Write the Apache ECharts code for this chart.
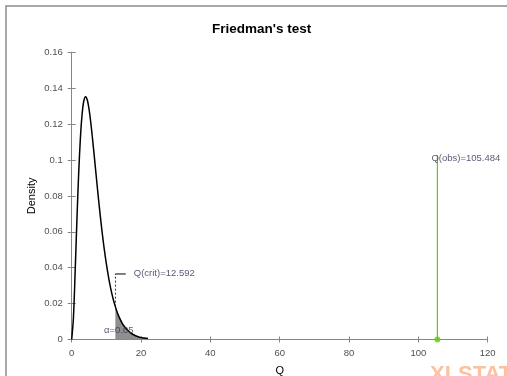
<!DOCTYPE html>
<html>
<head>
<meta charset="utf-8">
<script src="https://cdn.jsdelivr.net/npm/echarts@6/dist/echarts.min.js"></script>
<style>html,body{margin:0;padding:0;background:#fff;}#c{width:507px;height:376px;}</style>
</head>
<body>
<div id="c"></div>
<script>
// Density curve
var qValues = [0,0.5,1,1.5,2,2.5,3,3.5,4,4.5,5,5.5,6,6.5,7,7.5,8,8.5,9,9.5,10,10.5,11,11.5,12,12.592,13,13.5,14,14.5,15,15.5,16,17,18,19,20,21,22];
var densityValues = [0,0.0122,0.0379,0.0664,0.0920,0.1119,0.1255,0.1330,0.1353,0.1334,0.1283,0.1209,0.1120,0.1024,0.0925,0.0827,0.0733,0.0644,0.0562,0.0488,0.0421,0.0362,0.0309,0.0263,0.0223,0.0183,0.0159,0.0133,0.0112,0.0093,0.0078,0.0065,0.0054,0.0037,0.0025,0.0017,0.0011,0.0008,0.0005];
var qCrit = 12.592;
var qCritLabelY = 0.0365;
var qCritLabelEndX = 15.6;
var qObs = 105.484;
var qObsTop = 0.1025;
var alphaLabelPos = [13.6, 0.0049];
var xTicks = {min: 0, max: 120, interval: 20};
var yTicks = {min: 0, max: 0.16, interval: 0.02};

var curve = qValues.map(function (q, i) { return [q, densityValues[i]]; });
var tail = curve.filter(function (p) { return p[0] >= qCrit; });

var chart = echarts.init(document.getElementById('c'));
var axisGray = '#868686';
var txt = '#505050';
var fnt = '"Liberation Sans", Arial, sans-serif';

function xa(inside, showLabel) {
  return {
    type: 'value', position: 'bottom', min: xTicks.min, max: xTicks.max, interval: xTicks.interval,
    name: showLabel ? 'Q' : '', nameLocation: 'middle', nameGap: 26,
    nameTextStyle: {color: '#000', fontSize: 11, fontFamily: fnt},
    axisLine: {show: true, lineStyle: {color: axisGray, width: 1}},
    axisTick: {show: true, inside: inside, length: 3, lineStyle: {color: axisGray}},
    axisLabel: {show: showLabel, color: txt, fontSize: 9.5, fontFamily: fnt, margin: 9},
    splitLine: {show: false}
  };
}
function ya(inside, showLabel) {
  return {
    type: 'value', position: 'left', min: yTicks.min, max: yTicks.max, interval: yTicks.interval,
    name: showLabel ? 'Density' : '', nameLocation: 'middle', nameGap: 34, nameRotate: 90,
    nameMoveOverlap: false,
    nameTextStyle: {color: '#000', fontSize: 11, fontFamily: fnt},
    axisLine: {show: true, lineStyle: {color: axisGray, width: 1}},
    axisTick: {show: true, inside: inside, length: 4, lineStyle: {color: axisGray}},
    axisLabel: {show: showLabel, color: txt, fontSize: 9.5, fontFamily: fnt, margin: 9},
    splitLine: {show: false}
  };
}

chart.setOption({
  animation: false,
  backgroundColor: '#fff',
  title: {
    text: "Friedman's test", left: 207, top: 17,
    textStyle: {fontSize: 13.5, fontWeight: 'bold', color: '#000', fontFamily: fnt}
  },
  grid: {left: 71.7, right: 19.3, top: 52.3, bottom: 36.5, containLabel: false, outerBoundsMode: 'none'},
  xAxis: [xa(false, true), xa(true, false)],
  yAxis: [ya(false, true), ya(true, false)],
  graphic: [
    {type: 'rect', shape: {x: 6, y: 6, width: 540, height: 420}, style: {fill: 'none', stroke: '#8c8c8c', lineWidth: 1.5}, z: 100},
    {type: 'text', left: 430, top: 364, style: {text: 'XLSTAT', fill: '#fcc2a0', font: 'bold 22px "Liberation Sans", Arial, sans-serif'}, z: 100}
  ],
  series: [
    {type: 'line', data: tail, symbol: 'none', lineStyle: {width: 0}, areaStyle: {color: '#8f8f8f', opacity: 1}, z: 2},
    {type: 'line', data: curve, symbol: 'none', smooth: 0.3, lineStyle: {color: '#000', width: 1.5}, z: 3},
    {type: 'line', data: [[qCrit, densityValues[qValues.indexOf(qCrit)]], [qCrit, qCritLabelY]], symbol: 'none',
      lineStyle: {color: '#000', width: 0.8, type: [2, 2]}, z: 4},
    {type: 'line', data: [[qCrit, qCritLabelY], [qCritLabelEndX, qCritLabelY]], symbol: 'none',
      lineStyle: {color: '#000', width: 1}, z: 4},
    {type: 'scatter', data: [[qCritLabelEndX, qCritLabelY]], symbolSize: 0, z: 5,
      label: {show: true, position: 'right', distance: 8, offset: [0, -1], formatter: 'Q(crit)=12.592', color: '#303050', fontSize: 9.5, fontFamily: fnt}},
    {type: 'scatter', data: [alphaLabelPos], symbolSize: 0, z: 5,
      label: {show: true, position: 'inside', formatter: 'α=0.05', color: '#303050', fontSize: 9.5, fontFamily: fnt}},
    {type: 'line', data: [[qObs, 0], [qObs, qObsTop]], symbol: 'none', lineStyle: {color: '#66cc00', width: 1.2}, z: 4},
    {type: 'scatter', data: [[qObs, 0]], symbol: 'circle', symbolSize: 6, itemStyle: {color: '#66cc00'}, z: 6},
    {type: 'scatter', data: [[qObs, qObsTop]], symbolSize: 0, z: 5,
      label: {show: true, position: 'right', distance: -6, offset: [0, 3], formatter: 'Q(obs)=105.484', color: '#303050', fontSize: 9.5, fontFamily: fnt}}
  ]
});
</script>
</body>
</html>
